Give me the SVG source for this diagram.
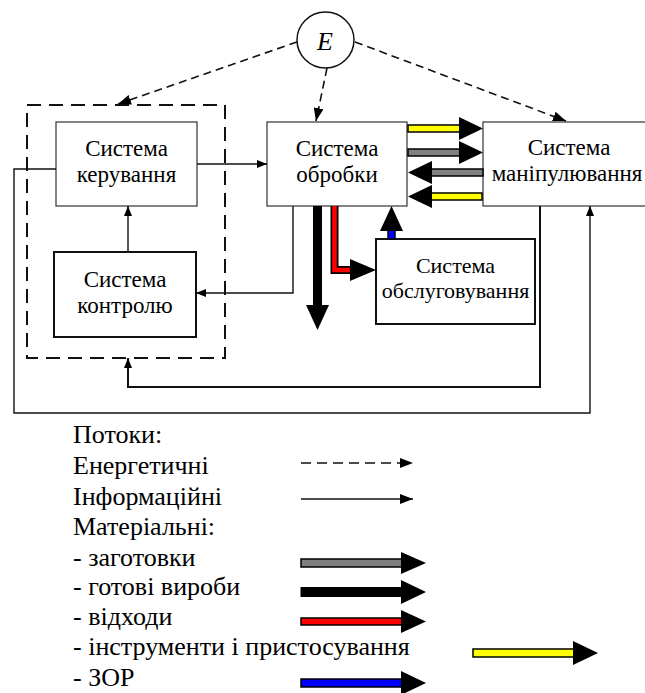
<svg xmlns="http://www.w3.org/2000/svg" width="645" height="693" viewBox="0 0 645 693">
<defs>
<marker id="ah" viewBox="0 0 10 8" refX="10" refY="4" markerWidth="10" markerHeight="8" markerUnits="userSpaceOnUse" orient="auto">
<path d="M0,0 L10,4 L0,8 Z" fill="#000"/>
</marker>
<marker id="ahe" viewBox="0 0 13 10" refX="13" refY="5" markerWidth="13" markerHeight="10" markerUnits="userSpaceOnUse" orient="auto">
<path d="M0,0 L13,5 L0,10 Z" fill="#000"/>
</marker>
</defs>
<rect width="645" height="693" fill="#fff"/>

<g id="control-group">
<rect x="27" y="105" width="198" height="253" fill="none" stroke="#111" stroke-width="2" stroke-dasharray="14,8"/>
</g>

<g id="E">
<ellipse cx="325.5" cy="40" rx="28.5" ry="28" fill="#fff" stroke="#111" stroke-width="1.5"/>
<text x="325" y="50" font-family="Liberation Serif" font-style="italic" font-size="26" text-anchor="middle">E</text>
</g>

<g id="keruvannia">
<rect x="56" y="122" width="141" height="84" fill="#fff" stroke="#333" stroke-width="1.2"/>
<text x="126.5" y="156" font-family="Liberation Serif" font-size="23" text-anchor="middle">Система</text>
<text x="126.5" y="182" font-family="Liberation Serif" font-size="23" text-anchor="middle">керування</text>
</g>

<g id="kontroliu">
<rect x="54" y="252" width="142" height="85" fill="#fff" stroke="#111" stroke-width="2"/>
<text x="125" y="287" font-family="Liberation Serif" font-size="23" text-anchor="middle">Система</text>
<text x="125" y="313" font-family="Liberation Serif" font-size="23" text-anchor="middle">контролю</text>
</g>

<g id="obrobky">
<rect x="267" y="122" width="140" height="84" fill="#fff" stroke="#333" stroke-width="1.2"/>
<text x="337" y="156" font-family="Liberation Serif" font-size="23" text-anchor="middle">Система</text>
<text x="337" y="182" font-family="Liberation Serif" font-size="23" text-anchor="middle">обробки</text>
</g>

<g id="manipuliuvannia">
<rect x="483" y="122" width="170" height="84" fill="#fff" stroke="#333" stroke-width="1.2"/>
<text x="569" y="155" font-family="Liberation Serif" font-size="23" text-anchor="middle">Система</text>
<text x="567" y="181" font-family="Liberation Serif" font-size="23" text-anchor="middle">маніпулювання</text>
</g>

<g id="obsluhovuvannia">
<rect x="376" y="239" width="159" height="85" fill="#fff" stroke="#111" stroke-width="2"/>
<text x="455.5" y="273" font-family="Liberation Serif" font-size="22" text-anchor="middle">Система</text>
<text x="455.5" y="298" font-family="Liberation Serif" font-size="22" text-anchor="middle">обслуговування</text>
</g>

<g id="connectors">
<line x1="297" y1="42" x2="118" y2="104" fill="none" stroke="#111" stroke-width="1.6" stroke-dasharray="8,5" marker-end="url(#ahe)"/>
<line x1="327" y1="68" x2="316" y2="121" fill="none" stroke="#111" stroke-width="1.6" stroke-dasharray="8,5" marker-end="url(#ahe)"/>
<line x1="355" y1="42" x2="566" y2="121" fill="none" stroke="#111" stroke-width="1.6" stroke-dasharray="8,5" marker-end="url(#ahe)"/>
<line x1="197" y1="164" x2="267" y2="164" fill="none" stroke="#111" stroke-width="1.4" marker-end="url(#ah)"/>
<line x1="128" y1="252" x2="128" y2="206" fill="none" stroke="#111" stroke-width="1.4" marker-end="url(#ah)"/>
<polyline points="293,206 293,293 196,293" fill="none" stroke="#111" stroke-width="1.4" marker-end="url(#ah)"/>
<polyline points="540,206 540,387 128,387 128,358" fill="none" stroke="#111" stroke-width="2" marker-end="url(#ah)"/>
<polyline points="56,169 14,169 14,413 590,413 590,206" fill="none" stroke="#111" stroke-width="1.4" marker-end="url(#ah)"/>
<rect x="408" y="125" width="52" height="7" fill="#ffff00" stroke="#000" stroke-width="1.5"/>
<polygon points="459,117 483,128.5 459,140" fill="#000"/>
<rect x="408" y="149" width="52" height="7" fill="#808080" stroke="#000" stroke-width="1.5"/>
<polygon points="459,141 483,152.5 459,164" fill="#000"/>
<rect x="431" y="169" width="52" height="7" fill="#808080" stroke="#000" stroke-width="1.5"/>
<polygon points="432,161 408,172.5 432,184" fill="#000"/>
<rect x="431" y="193" width="51" height="7" fill="#ffff00" stroke="#000" stroke-width="1.5"/>
<polygon points="432,185 408,196.5 432,208" fill="#000"/>
<rect x="313" y="206" width="9" height="100" fill="#000"/>
<polygon points="306,305 317.5,330 329,305" fill="#000"/>
<polyline points="334.5,206 334.5,270 351,270" fill="none" stroke="#000" stroke-width="8"/>
<polyline points="334.5,206 334.5,270 351,270" fill="none" stroke="#ff0000" stroke-width="4.5"/>
<polygon points="350,259 376,270 350,281" fill="#000"/>
<rect x="388" y="229" width="7" height="10" fill="#0000ff" stroke="#000" stroke-width="1.5"/>
<polygon points="380,231 391.5,206 403,231" fill="#000"/>
</g>

<text x="73" y="443" font-family="Liberation Serif" font-size="26">Потоки:</text>
<text x="73" y="474" font-family="Liberation Serif" font-size="26">Енергетичні</text>
<text x="73" y="505" font-family="Liberation Serif" font-size="26">Інформаційні</text>
<text x="73" y="535" font-family="Liberation Serif" font-size="26">Матеріальні:</text>
<text x="73" y="566" font-family="Liberation Serif" font-size="26">- заготовки</text>
<text x="73" y="595" font-family="Liberation Serif" font-size="26">- готові вироби</text>
<text x="73" y="625" font-family="Liberation Serif" font-size="26">- відходи</text>
<text x="73" y="655" font-family="Liberation Serif" font-size="26">- інструменти і пристосування</text>
<text x="73" y="686" font-family="Liberation Serif" font-size="26">- ЗОР</text>

<g id="legend">
<line x1="301" y1="463" x2="413" y2="463" stroke="#111" stroke-width="1.6" stroke-dasharray="10,6" marker-end="url(#ahe)"/>
<line x1="301" y1="499" x2="413" y2="499" stroke="#111" stroke-width="1.6" marker-end="url(#ahe)"/>
<rect x="301" y="559" width="101" height="8" fill="#808080" stroke="#000" stroke-width="1.5"/>
<polygon points="401,552 426,563 401,574" fill="#000"/>
<rect x="300.5" y="587" width="101" height="10" fill="#000"/>
<polygon points="401,580 426,592 401,604" fill="#000"/>
<rect x="301" y="618" width="101" height="7" fill="#ff0000" stroke="#000" stroke-width="1.5"/>
<polygon points="401,610 426,621.5 401,633" fill="#000"/>
<rect x="473" y="649" width="101" height="8" fill="#ffff00" stroke="#000" stroke-width="1.5"/>
<polygon points="573,641 598,653 573,665" fill="#000"/>
<rect x="301" y="679" width="101" height="8" fill="#0000ff" stroke="#000" stroke-width="1.5"/>
<polygon points="401,671 426,683 401,695" fill="#000"/>
</g>
</svg>
